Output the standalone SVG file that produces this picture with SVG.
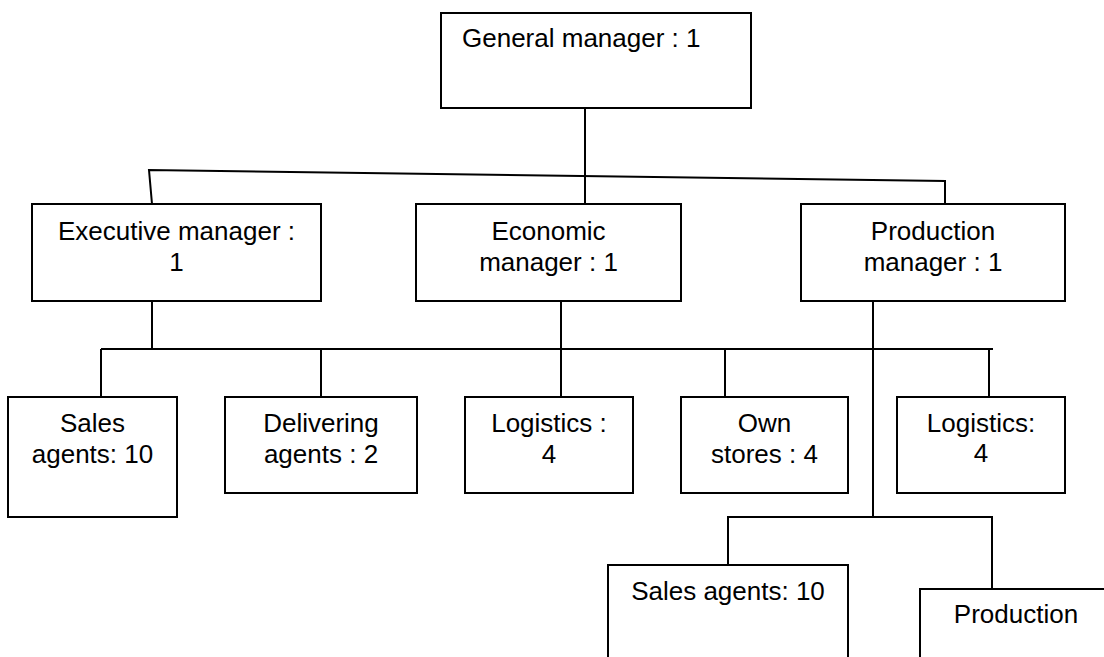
<svg xmlns="http://www.w3.org/2000/svg" width="1104" height="657" viewBox="0 0 1104 657">
<style>
.box{fill:#fff;stroke:#000;stroke-width:2}
.ln{fill:none;stroke:#000;stroke-width:2}
text{font-family:"Liberation Sans",Arial,sans-serif;font-size:26px;fill:#000}
.c{text-anchor:middle}
</style>
<rect width="1104" height="657" fill="#fff"/>
<g id="connectors">
<line class="ln" x1="585" y1="108" x2="585" y2="204"/>
<polyline class="ln" points="152,204 149,170 945,181 945,204"/>
<line class="ln" x1="152" y1="301" x2="152" y2="349"/>
<line class="ln" x1="101" y1="349" x2="993" y2="349"/>
<line class="ln" x1="101" y1="349" x2="101" y2="397"/>
<line class="ln" x1="321" y1="349" x2="321" y2="397"/>
<line class="ln" x1="561" y1="301" x2="561" y2="397"/>
<line class="ln" x1="725" y1="349" x2="725" y2="397"/>
<line class="ln" x1="989" y1="349" x2="989" y2="397"/>
<line class="ln" x1="873" y1="301" x2="873" y2="517"/>
<polyline class="ln" points="728,565 728,517 992,517 992,589"/>
</g>
<g id="general-manager">
<rect class="box" x="441" y="13" width="310" height="95"/>
<text x="462" y="47">General manager : 1</text>
</g>
<g id="executive-manager">
<rect class="box" x="32" y="204" width="289" height="97"/>
<text class="c" x="176.5" y="240">Executive manager :</text>
<text class="c" x="176.5" y="271">1</text>
</g>
<g id="economic-manager">
<rect class="box" x="416" y="204" width="265" height="97"/>
<text class="c" x="548.5" y="240">Economic</text>
<text class="c" x="548.5" y="271">manager : 1</text>
</g>
<g id="production-manager">
<rect class="box" x="801" y="204" width="264" height="97"/>
<text class="c" x="933" y="240">Production</text>
<text class="c" x="933" y="271">manager : 1</text>
</g>
<g id="sales-agents-1">
<rect class="box" x="8" y="397" width="169" height="120"/>
<text class="c" x="92.5" y="432">Sales</text>
<text class="c" x="92.5" y="463">agents: 10</text>
</g>
<g id="delivering-agents">
<rect class="box" x="225" y="397" width="192" height="96"/>
<text class="c" x="321" y="432">Delivering</text>
<text class="c" x="321" y="463">agents : 2</text>
</g>
<g id="logistics-1">
<rect class="box" x="465" y="397" width="168" height="96"/>
<text class="c" x="549" y="432">Logistics :</text>
<text class="c" x="549" y="463">4</text>
</g>
<g id="own-stores">
<rect class="box" x="681" y="397" width="167" height="96"/>
<text class="c" x="764.5" y="432">Own</text>
<text class="c" x="764.5" y="463">stores : 4</text>
</g>
<g id="logistics-2">
<rect class="box" x="897" y="397" width="168" height="96"/>
<text class="c" x="981" y="432">Logistics:</text>
<text class="c" x="981" y="462">4</text>
</g>
<g id="sales-agents-2">
<rect class="box" x="608" y="565" width="240" height="110"/>
<text class="c" x="728" y="600">Sales agents: 10</text>
</g>
<g id="production">
<rect class="box" x="920" y="589" width="200" height="90"/>
<text class="c" x="1016" y="623">Production</text>
</g>
</svg>
